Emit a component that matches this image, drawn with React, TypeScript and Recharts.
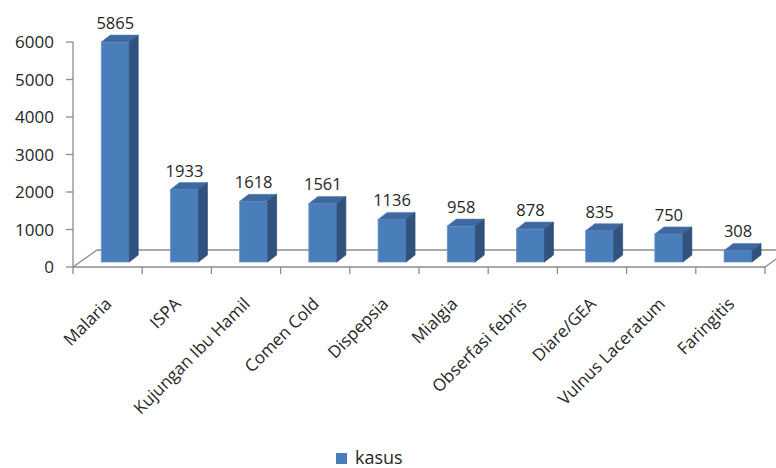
import React from 'react';
import { BarChart, Bar, XAxis, YAxis, LabelList, Legend, ReferenceArea } from 'recharts';

// Kasus penyakit terbanyak
const categories = [
  'Malaria',
  'ISPA',
  'Kujungan Ibu Hamil',
  'Comen Cold',
  'Dispepsia',
  'Mialgia',
  'Obserfasi febris',
  'Diare/GEA',
  'Vulnus Laceratum',
  'Faringitis',
];
const kasus = [5865, 1933, 1618, 1561, 1136, 958, 878, 835, 750, 308];
const yTicks = [0, 1000, 2000, 3000, 4000, 5000, 6000];

const data = categories.map((name, i) => ({ name, kasus: kasus[i] }));

const FONT = '"Open Sans", "Noto Sans", sans-serif';
const TEXT = '#262626';
const AXIS = '#8c8c8c';

// 3D projection: bars stand partway into the floor and have a short depth
const SHIFT_X = 7.5;
const SHIFT_Y = -5;
const DEPTH_X = 9;
const DEPTH_Y = 7;
const FLOOR_X = 24;
const FLOOR_Y = 17;

const FRONT = '#4a7ebb';
const TOP = '#3e68a0';
const SIDE = '#30527f';

const Bar3D = (props: any) => {
  const { x, y, width, height } = props;
  if (width == null || height == null) return null;
  const fx = x + SHIFT_X;
  const fy = y + SHIFT_Y;
  const w = width;
  const h = height;
  const top = `${fx},${fy} ${fx + DEPTH_X},${fy - DEPTH_Y} ${fx + w + DEPTH_X},${fy - DEPTH_Y} ${fx + w},${fy}`;
  const side = `${fx + w},${fy} ${fx + w + DEPTH_X},${fy - DEPTH_Y} ${fx + w + DEPTH_X},${fy + h - DEPTH_Y} ${fx + w},${fy + h}`;
  return (
    <g>
      <rect x={fx} y={fy} width={w} height={h} fill={FRONT} stroke="#6b97cc" strokeWidth={0.8} />
      <polygon points={top} fill={TOP} stroke="#5a84b8" strokeWidth={0.6} />
      <polygon points={side} fill={SIDE} stroke="#2a4770" strokeWidth={0.6} />
    </g>
  );
};

const Floor = (props: any) => {
  const { x, y, width, height } = props;
  const left = x;
  const right = x + width;
  const bottom = y + height;
  const n = categories.length;
  const step = width / n;
  const ticks = Array.from({ length: n + 1 }, (_, i) => left + i * step);
  return (
    <g fill="none" stroke={AXIS} strokeWidth={1.3}>
      <line x1={left} y1={bottom} x2={left + FLOOR_X} y2={bottom - FLOOR_Y} />
      <line x1={left + FLOOR_X} y1={bottom - FLOOR_Y} x2={right + FLOOR_X} y2={bottom - FLOOR_Y} />
      <line x1={right} y1={bottom} x2={right + FLOOR_X} y2={bottom - FLOOR_Y} />
      <line x1={left} y1={bottom} x2={right} y2={bottom} />
      {ticks.map((tx, i) => (
        <line key={i} x1={tx} y1={bottom} x2={tx} y2={bottom + 7} />
      ))}
    </g>
  );
};

const ValueLabel = (props: any) => {
  const { x, y, width, value } = props;
  return (
    <text
      x={x + width / 2 + SHIFT_X}
      y={y + SHIFT_Y - 13}
      textAnchor="middle"
      fontFamily={FONT}
      fontSize={16.5}
      fill={TEXT}
    >
      {value}
    </text>
  );
};

const CategoryTick = (props: any) => {
  const { x, y, payload } = props;
  const ax = x + 5;
  const ay = y + 30;
  return (
    <text
      x={ax}
      y={ay}
      transform={`rotate(-45, ${ax}, ${ay})`}
      textAnchor="end"
      fontFamily={FONT}
      fontSize={17}
      fill={TEXT}
    >
      {payload.value}
    </text>
  );
};

const LegendContent = () => (
  <div style={{ display: 'flex', alignItems: 'center', fontFamily: FONT, fontSize: 18, lineHeight: '24px', color: TEXT }}>
    <span style={{ display: 'inline-block', width: 11, height: 11, background: FRONT, marginRight: 8, marginTop: 3 }} />
    <span>kasus</span>
  </div>
);

export default function App() {
  return (
    <div style={{ position: 'absolute', left: 0, top: 0, width: 776, height: 468, background: '#fff' }}>
      <BarChart
        width={776}
        height={468}
        data={data}
        margin={{ top: 42, right: 11, left: 13, bottom: 81 }}
        barCategoryGap="30%"
      >
        <ReferenceArea
          x1={categories[0]}
          x2={categories[categories.length - 1]}
          y1={0}
          y2={6000}
          ifOverflow="visible"
          shape={<Floor />}
        />
        <XAxis
          dataKey="name"
          height={120}
          interval={0}
          axisLine={false}
          tickLine={false}
          tick={<CategoryTick />}
        />
        <YAxis
          width={60}
          domain={[0, 6000]}
          ticks={yTicks}
          interval={0}
          axisLine={{ stroke: AXIS, strokeWidth: 1.3 }}
          tickLine={{ stroke: AXIS, strokeWidth: 1.3 }}
          tickSize={7}
          tickMargin={12}
          tick={{ fontFamily: FONT, fontSize: 17, fill: TEXT }}
        />
        <Bar dataKey="kasus" name="kasus" fill={FRONT} shape={<Bar3D />} isAnimationActive={false}>
          <LabelList dataKey="kasus" content={<ValueLabel />} />
        </Bar>
        <Legend
          layout="horizontal"
          verticalAlign="middle"
          align="center"
          content={<LegendContent />}
          wrapperStyle={{ position: 'absolute', left: 336, top: 445, width: 120, height: 23 }}
        />
      </BarChart>
    </div>
  );
}
